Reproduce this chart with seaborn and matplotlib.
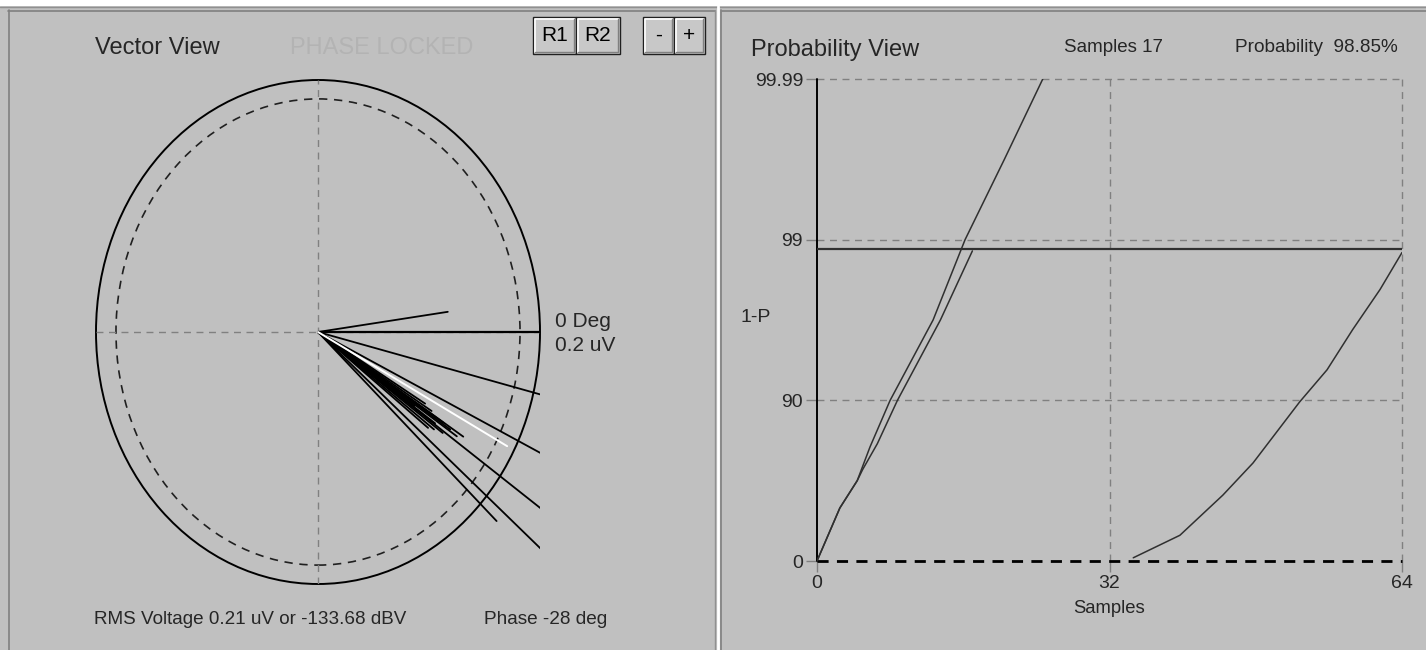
import numpy as np
import pandas as pd
import seaborn as sns
import matplotlib
matplotlib.use("Agg")
import matplotlib.pyplot as plt
from matplotlib.patches import Ellipse, Rectangle
from matplotlib.lines import Line2D

# ---- data ----
# vector view: phase (deg) and amplitude (uV), full scale circle = 0.2 uV
vec_phase = [7.8, -13.9, -25.6, -34.9, -40.6, -43.0, -32.4,
             -33.0, -32.5, -33.5, -34.5, -31.5, -35.5, -30.5, -36.5, -34.0, -37.5]
vec_amp = [0.118, 0.26, 0.25, 0.26, 0.27, 0.22, 0.155,
           0.142, 0.134, 0.150, 0.128, 0.120, 0.138, 0.112, 0.130, 0.105, 0.125]
mean_phase = -28.0
mean_amp = 0.193
full_scale = 0.2

# probability view: samples vs 1-P level (0 -> 0, 1 -> 90, 2 -> 99, 3 -> 99.99)
curve_a_x = [0, 2.5, 4.4, 5.8, 8.0, 12.7, 16.2, 20.5, 24.7]
curve_a_y = [0, 0.33, 0.50, 0.71, 1.0, 1.5, 2.0, 2.5, 3.0]
curve_b_x = [0, 2.5, 4.4, 5.0, 6.6, 8.8, 13.5, 17.0]
curve_b_y = [0, 0.33, 0.50, 0.57, 0.73, 1.0, 1.5, 1.93]
curve_c_x = [34.6, 39.7, 44.4, 47.7, 52.8, 55.8, 58.6, 61.6, 64.0]
curve_c_y = [0.02, 0.16, 0.41, 0.61, 0.99, 1.19, 1.44, 1.69, 1.92]
thresh_level = 1.94
y_ticks = [0, 1, 2, 3]
y_ticklabels = ["0", "90", "99", "99.99"]
x_ticks = [0, 32, 64]

W, H = 1426, 650
BG = "#c0c0c0"

sns.set_style("white")
plt.rcParams['font.family'] = ['Liberation Sans', 'DejaVu Sans']


def fx(x):
    return x / W


def fy(y):
    return 1 - y / H


fig = plt.figure(figsize=(W / 100, H / 100), dpi=100, facecolor=BG)

# window chrome
fig.patches.append(Rectangle((0, fy(6)), 1, 6 / H, transform=fig.transFigure,
                             facecolor="white", edgecolor="none"))
fig.lines.append(Line2D([0, 1], [fy(6.5), fy(6.5)], transform=fig.transFigure, color="#909090", lw=1))
fig.lines.append(Line2D([fx(8), fx(715)], [fy(10.5), fy(10.5)], transform=fig.transFigure, color="#808080", lw=1.2))
fig.lines.append(Line2D([fx(722), 1], [fy(10.5), fy(10.5)], transform=fig.transFigure, color="#808080", lw=1.2))
fig.lines.append(Line2D([fx(8.5), fx(8.5)], [fy(10), 0], transform=fig.transFigure, color="#808080", lw=1.2))
fig.lines.append(Line2D([fx(715), fx(715)], [fy(10), 0], transform=fig.transFigure, color="#909090", lw=1))
fig.lines.append(Line2D([fx(718), fx(718)], [fy(6), 0], transform=fig.transFigure, color="white", lw=2))
fig.lines.append(Line2D([fx(721.5), fx(721.5)], [fy(10), 0], transform=fig.transFigure, color="#808080", lw=1.2))


def button(x0, x1, y0, y1, label):
    fig.patches.append(Rectangle((fx(x0), fy(y1)), (x1 - x0) / W, (y1 - y0) / H,
                                 transform=fig.transFigure, facecolor="#c8c8c8",
                                 edgecolor="#202020", lw=1.0))
    fig.lines.append(Line2D([fx(x0 + 1.5), fx(x0 + 1.5), fx(x1 - 2)],
                            [fy(y1 - 2), fy(y0 + 1.5), fy(y0 + 1.5)],
                            transform=fig.transFigure, color="white", lw=1.2))
    fig.lines.append(Line2D([fx(x0 + 2), fx(x1 - 2), fx(x1 - 2)],
                            [fy(y1 - 2), fy(y1 - 2), fy(y0 + 2)],
                            transform=fig.transFigure, color="#808080", lw=1.0))
    fig.text(fx((x0 + x1) / 2), fy((y0 + y1) / 2), label, ha="center", va="center",
             fontsize=15, color="black")


button(533, 576, 17, 54, "R1")
button(576, 620, 17, 54, "R2")
button(643, 674, 17, 54, "-")
button(674, 705, 17, 54, "+")

# ---- vector view ----
axv = fig.add_axes([fx(96), fy(584), 444 / W, 504 / H])
axv.set_facecolor("none")
axv.set_xlim(-1, 1)
axv.set_ylim(-1, 1)
axv.axis("off")

axv.axhline(0, color="#808080", lw=1, dashes=(5, 4))
axv.axvline(0, color="#808080", lw=1, dashes=(5, 4))
axv.add_patch(Ellipse((0, 0), 2, 2, fill=False, edgecolor="black", lw=1.4, clip_on=False))
axv.add_patch(Ellipse((0, 0), 1.82, 1.85, fill=False, edgecolor="#202020", lw=1.2,
                      linestyle=(0, (5, 4))))

rows = []
for i, (p, a) in enumerate(zip(vec_phase, vec_amp)):
    r = a / full_scale
    rows.append({"vec": i, "x": 0.0, "y": 0.0})
    rows.append({"vec": i, "x": r * np.cos(np.radians(p)), "y": r * np.sin(np.radians(p))})
vec_df = pd.DataFrame(rows)
sns.lineplot(data=vec_df, x="x", y="y", units="vec", estimator=None, sort=False,
             color="black", lw=1.3, ax=axv)

ref_df = pd.DataFrame({"x": [0, 1], "y": [0, 0]})
sns.lineplot(data=ref_df, x="x", y="y", color="black", lw=1.6, ax=axv)

mr = mean_amp / full_scale
mean_df = pd.DataFrame({"x": [0, mr * np.cos(np.radians(mean_phase))],
                        "y": [0, mr * np.sin(np.radians(mean_phase))]})
sns.lineplot(data=mean_df, x="x", y="y", color="white", lw=1.4, sort=False, ax=axv)
axv.set_xlabel("")
axv.set_ylabel("")

fig.text(fx(555), fy(322), "0 Deg", ha="left", va="center", fontsize=15)
fig.text(fx(555), fy(346), "0.2 uV", ha="left", va="center", fontsize=15)
fig.text(fx(95), fy(48), "Vector View", ha="left", va="center", fontsize=17)
fig.text(fx(290), fy(48), "PHASE LOCKED", ha="left", va="center", fontsize=17, color="#b3b3b3")
fig.text(fx(94), fy(620), "RMS Voltage 0.21 uV or -133.68 dBV", ha="left", va="center", fontsize=13.6)
fig.text(fx(484), fy(620), "Phase -28 deg", ha="left", va="center", fontsize=13.7)

# ---- probability view ----
axp = fig.add_axes([fx(817), fy(561), 585 / W, 482 / H])
axp.set_facecolor("none")
axp.set_xlim(0, 64)
axp.set_ylim(0, 3)
for s in axp.spines.values():
    s.set_visible(False)

for yv in [1, 2, 3]:
    axp.axhline(yv, color="#808080", lw=1, dashes=(5, 4), clip_on=False)
for xv in [32, 64]:
    axp.axvline(xv, color="#808080", lw=1, dashes=(5, 4), clip_on=False)
axp.axhline(0, color="black", lw=2, dashes=(4, 3), clip_on=False)
axp.axvline(0, color="black", lw=1.4, clip_on=False)

sns.lineplot(x=curve_a_x, y=curve_a_y, color="#303030", lw=1.1, sort=False, ax=axp)
sns.lineplot(x=curve_b_x, y=curve_b_y, color="#303030", lw=1.1, sort=False, ax=axp)
sns.lineplot(x=curve_c_x, y=curve_c_y, color="#303030", lw=1.1, sort=False, ax=axp)
sns.lineplot(x=[0, 64], y=[thresh_level, thresh_level], color="#303030", lw=1.6, ax=axp)

axp.set_yticks(y_ticks)
axp.set_yticklabels(y_ticklabels)
axp.set_xticks(x_ticks)
axp.set_xticklabels([str(v) for v in x_ticks])
axp.tick_params(axis="both", length=8, width=1, color="#808080", labelsize=14,
                direction="out", pad=2, left=True, bottom=True)
axp.set_xlabel("Samples", fontsize=13.3, labelpad=6)
axp.set_ylabel("")

fig.text(fx(740), fy(318), "1-P", ha="left", va="center", fontsize=14)
fig.text(fx(751), fy(50), "Probability View", ha="left", va="center", fontsize=17)
fig.text(fx(1064), fy(48), "Samples 17", ha="left", va="center", fontsize=13.5)
fig.text(fx(1235), fy(48), "Probability  98.85%", ha="left", va="center", fontsize=13.7)

fig.savefig("out.png", dpi=100, facecolor=BG)
